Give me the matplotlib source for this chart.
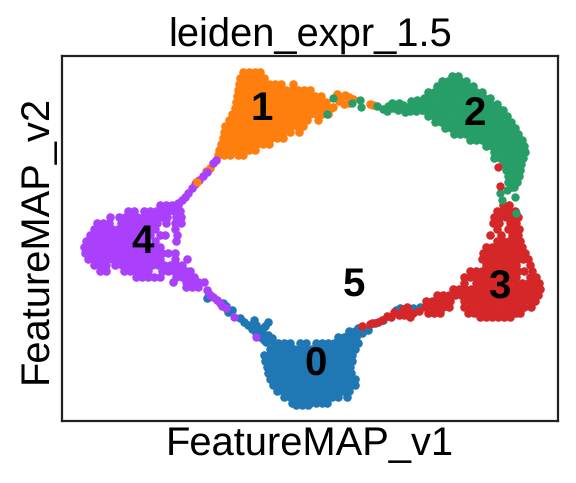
import numpy as np
import matplotlib
matplotlib.use('Agg')
import matplotlib.pyplot as plt

plt.rcParams['font.family'] = ['Liberation Sans', 'DejaVu Sans']
plt.rcParams['text.hinting'] = 'none'

# embedding values, one row of cells per v2 value
rows_0 = {
    331: [349, 355],
    337: [338, 344, 350, 356],
    343: [278, 284, 290, 300, 306, 316, 322, 328, 334, 340, 346, 352, 358],
    349: [270, 276, 282, 288, 294, 300, 306, 312, 318, 324, 330, 336, 342, 348, 355],
    355: [264, 270, 276, 282, 288, 294, 300, 306, 312, 318, 324, 330, 336, 342, 348, 352],
    361: [265, 271, 277, 283, 289, 295, 301, 307, 313, 319, 325, 331, 337, 343, 349, 352],
    367: [267, 273, 279, 285, 291, 297, 303, 309, 315, 321, 327, 333, 339, 345, 350],
    373: [268, 274, 280, 286, 292, 298, 304, 310, 316, 322, 328, 334, 340, 346, 351],
    379: [270, 276, 282, 288, 294, 300, 306, 312, 318, 324, 330, 336, 342, 348, 355],
    385: [273, 279, 285, 291, 297, 303, 309, 315, 321, 327, 333, 339, 345, 351, 355],
    391: [277, 283, 289, 295, 301, 307, 313, 319, 325, 331, 337, 343, 349],
    397: [284, 290, 296, 302, 308, 314, 320, 326, 332, 338, 347],
    403: [292, 298, 304, 310, 316, 322, 327],
    405: [296, 302, 308],
}
arm_0_x = [207, 209, 223, 226, 228, 232, 240, 244, 248, 252, 256, 260, 264, 270, 254, 256,
           258, 268, 265, 263, 272, 358, 348, 368, 375, 383, 400, 396, 420, 413, 262, 268,
           274, 266, 272, 352, 344, 362]
arm_0_y = [298, 294, 303, 306, 312, 310, 318, 322, 325, 329, 333, 337, 340, 340, 320, 325,
           329, 322, 326, 328, 338, 328, 335, 330, 323, 320, 308, 310, 307, 308, 333, 335,
           344, 342, 349, 333, 340, 333]

rows_1 = {
    72: [243, 249, 255, 260],
    78: [240, 246, 252, 258, 264],
    84: [239, 245, 251, 257, 263, 269, 275, 281, 293],
    90: [238, 244, 250, 256, 262, 268, 274, 280, 286, 292, 298, 304, 310],
    96: [237, 243, 249, 255, 261, 267, 273, 279, 285, 291, 297, 303, 309, 315, 321],
    102: [236, 242, 248, 254, 260, 266, 272, 278, 284, 290, 296, 302, 308, 314, 320, 326],
    108: [235, 241, 247, 253, 259, 265, 271, 277, 283, 289, 295, 301, 307, 313, 319, 325, 331],
    114: [232, 238, 244, 250, 256, 262, 268, 274, 280, 286, 292, 298, 304, 310, 316, 322, 328],
    120: [229, 235, 241, 247, 253, 259, 265, 271, 277, 283, 289, 295, 301, 307, 318],
    126: [225, 231, 237, 243, 249, 255, 261, 267, 273, 279, 285, 291, 297, 303],
    132: [224, 230, 236, 242, 248, 254, 260, 266, 272, 278, 284, 290, 299],
    138: [223, 229, 235, 241, 247, 253, 259, 265, 271, 277, 283],
    144: [221, 227, 233, 239, 245, 251, 257, 263, 269],
    150: [219, 225, 231, 237, 243, 249, 255],
    155: [218, 224, 230, 238, 243],
}
tail_1_x = [337, 341, 345, 349, 353, 339, 344, 349, 333, 370, 373, 210, 206, 196]
tail_1_y = [94, 97, 95, 97, 99, 101, 104, 103, 107, 104, 105, 168, 171, 182]

rows_2 = {
    76: [452, 458],
    81: [442, 448, 454, 460, 466],
    86: [437, 443, 449, 455, 461, 467, 473],
    92: [428, 434, 440, 446, 452, 458, 464, 470, 476, 482],
    98: [424, 430, 436, 442, 448, 454, 460, 466, 472, 478, 484, 490],
    104: [418, 424, 430, 436, 442, 448, 454, 460, 466, 472, 478, 484, 490, 497],
    110: [422, 428, 434, 440, 446, 452, 458, 464, 470, 476, 482, 488, 494, 500, 503],
    116: [428, 434, 440, 446, 452, 458, 464, 470, 476, 482, 488, 494, 500, 507],
    122: [435, 441, 447, 453, 459, 465, 471, 477, 483, 489, 495, 501, 507, 511],
    128: [445, 451, 457, 463, 469, 475, 481, 487, 493, 499, 505, 510, 515],
    134: [454, 460, 466, 472, 478, 484, 490, 496, 502, 508, 513, 518],
    140: [470, 476, 482, 488, 494, 500, 506, 512, 517, 522],
    146: [486, 492, 498, 504, 510, 516, 520, 524],
    152: [494, 500, 506, 512, 518, 525],
    158: [494, 500, 506, 512, 518, 523],
    164: [503, 509, 515, 521],
    170: [506, 512, 516, 520],
    176: [508, 514, 519],
    182: [508, 513, 517],
    187: [511, 514],
}
tail_2_x = [377, 383, 388, 393, 398, 403, 408, 413, 418, 423, 423, 416, 410, 392, 387, 399, 405, 411, 417]
tail_2_y = [106, 109, 106, 108, 110, 105, 107, 104, 107, 103, 110, 111, 111, 103, 111, 103, 112, 101, 100]

rows_3 = {
    205: [503, 509],
    211: [497, 503, 509, 515],
    217: [494, 500, 506, 512, 518],
    223: [493, 499, 510, 516],
    229: [497, 508, 514, 519],
    235: [490, 501, 512, 518],
    241: [497, 503, 509, 515, 520],
    247: [486, 492, 498, 504, 510, 516, 522],
    253: [483, 489, 495, 501, 507, 513, 519, 525],
    259: [482, 488, 494, 500, 506, 512, 518, 523, 528],
    265: [486, 492, 498, 504, 510, 516, 530],
    271: [470, 476, 482, 488, 494, 500, 506, 512, 518, 524, 532],
    277: [464, 470, 476, 482, 488, 494, 500, 506, 512, 516, 530, 536],
    283: [464, 476, 482, 488, 494, 500, 506, 510, 516, 522, 528, 534, 539],
    289: [453, 459, 465, 471, 477, 483, 489, 495, 501, 507, 513, 519, 525, 531, 537, 540],
    295: [437, 443, 449, 455, 461, 467, 473, 479, 485, 491, 497, 503, 509, 515, 521, 527, 533, 538],
    301: [426, 432, 438, 444, 450, 464, 470, 476, 482, 488, 494, 500, 506, 512, 518, 524, 530, 535],
    307: [425, 431, 437, 443, 449, 464, 470, 476, 482, 488, 494, 500, 506, 512, 518, 524, 531],
    313: [428, 434, 440, 468, 474, 480, 486, 492, 498, 504, 510, 516, 520],
    317: [480, 486, 492, 498, 504, 510],
}
tail_3_x = [419, 413, 408, 404, 399, 394, 391, 387, 382, 378, 372, 362, 370, 407, 403, 410]
tail_3_y = [311, 313, 312, 315, 315, 312, 317, 316, 320, 322, 323, 326, 324, 307, 309, 317]

rows_4 = {
    205: [160, 166, 172, 178],
    211: [128, 134, 144, 150, 156, 162, 168, 174, 180],
    217: [110, 119, 125, 131, 137, 143, 149, 155, 161, 167, 176, 181],
    223: [97, 103, 109, 121, 127, 133, 139, 145, 151, 157, 166, 175, 181],
    229: [94, 100, 106, 112, 118, 124, 130, 136, 142, 148, 155, 175],
    235: [90, 96, 102, 108, 114, 120, 126, 132, 138, 144, 150, 160, 165, 177],
    241: [86, 92, 98, 104, 110, 116, 122, 128, 134, 140, 146, 155, 176],
    247: [84, 88, 94, 100, 106, 112, 118, 124, 130, 136, 142, 148, 154, 160],
    253: [85, 90, 96, 102, 108, 114, 120, 126, 132, 138, 144, 150, 156, 162, 168, 175],
    259: [88, 94, 100, 106, 112, 118, 124, 130, 136, 142, 148, 154, 160, 175, 187],
    265: [94, 100, 106, 115, 122, 128, 134, 140, 146, 152, 158, 164, 170, 176, 182],
    271: [100, 106, 124, 130, 136, 142, 148, 162, 168, 174, 180, 186, 190],
    277: [136, 142, 148, 154, 160, 176, 182, 188, 194],
    282: [173, 186, 192, 198, 204],
    287: [186, 192, 198],
}
arm_4_x = [207, 210, 213, 217, 220, 222, 226, 213, 216, 203, 207, 199, 195, 192, 188, 185, 182, 178]
arm_4_y = [290, 295, 297, 300, 303, 306, 308, 163, 160, 176, 172, 180, 184, 188, 193, 197, 200, 203]

# cells sitting in another cluster's region, drawn last
stray_green_x = [500, 507, 515, 516, 502, 333, 327, 352, 360, 361]
stray_green_y = [193, 190, 197, 213, 200, 98, 114, 103, 100, 107]
stray_red_x = [498, 500]
stray_red_y = [167, 186]
stray_purple_x = [256, 234]
stray_purple_y = [337, 317]
stray_orange_x = [197]
stray_orange_y = [182]

cluster_names = ['0', '1', '2', '3', '4', '5']
label_x = [316, 262, 475, 499, 143, 354]
label_y = [365, 110, 115, 288, 243, 285]
colors = ['#1f77b4', '#ff7f0e', '#279e68', '#d62728', '#aa40fc']


def expand(rows, extra_x, extra_y):
    xs = list(extra_x)
    ys = list(extra_y)
    for y, row in rows.items():
        xs += row
        ys += [y] * len(row)
    return np.array(xs), np.array(ys)


fig = plt.figure(figsize=(5.76, 4.83), dpi=100)
ax = fig.add_axes([62 / 576, 1 - 421 / 483, 496 / 576, 365 / 483])

groups = [(rows_0, arm_0_x, arm_0_y), (rows_1, tail_1_x, tail_1_y), (rows_2, tail_2_x, tail_2_y),
          (rows_3, tail_3_x, tail_3_y), (rows_4, arm_4_x, arm_4_y)]
for (rows, ex, ey), col in zip(groups, colors):
    x, y = expand(rows, ex, ey)
    ax.scatter(x, y, s=38, c=col, linewidths=0)

ax.scatter(stray_orange_x, stray_orange_y, s=36, c=colors[1], linewidths=0)
ax.scatter(stray_green_x, stray_green_y, s=36, c=colors[2], linewidths=0)
ax.scatter(stray_red_x, stray_red_y, s=36, c=colors[3], linewidths=0)
ax.scatter(stray_purple_x, stray_purple_y, s=36, c=colors[4], linewidths=0)

for name, lx, ly in zip(cluster_names, label_x, label_y):
    ax.text(lx, ly, name, fontsize=29, fontweight='bold', ha='center', va='center', color='black')

ax.set_xlim(62, 558)
ax.set_ylim(421, 56)
ax.set_xticks([])
ax.set_yticks([])
for sp in ax.spines.values():
    sp.set_linewidth(1.6)
    sp.set_color('#222222')

ax.set_title('leiden_expr_1.5', fontsize=28.7, pad=7)
ax.set_xlabel('FeatureMAP_v1', fontsize=28.7, labelpad=4)
ax.set_ylabel('FeatureMAP_v2', fontsize=28.7, labelpad=5)

fig.savefig('out.png', dpi=100)
